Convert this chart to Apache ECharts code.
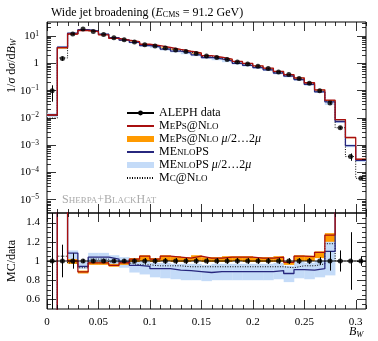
<!DOCTYPE html>
<html><head><meta charset="utf-8">
<script src="https://cdn.jsdelivr.net/npm/echarts@6/dist/echarts.min.js"></script>
<style>html,body{margin:0;padding:0;background:#fff}#c{width:378px;height:341px}</style>
</head><body><div id="c"></div>
<script>
// ---- data (bins of B_W) ----
const binEdges = [0,0.01,0.02,0.03,0.04,0.05,0.06,0.07,0.08,0.09,0.10,0.11,0.12,0.13,0.14,0.15,0.16,0.17,0.18,0.19,0.20,0.21,0.22,0.23,0.24,0.25,0.26,0.27,0.28,0.29,0.30,0.31];
const xTickLabels = [0, 0.05, 0.1, 0.15, 0.2, 0.25, 0.3];
const logTickLabels = [-5, -4, -3, -2, -1, 0, 1];
const ratioTickLabels = [0.6, 0.8, 1, 1.2, 1.4];

const dataVal = [0.095, 1.45, 11.5, 17.4, 14.3, 10.9, 8.3, 7.0, 5.9, 4.6, 4.2, 3.5, 3.0, 2.6, 2.2, 1.8, 1.57, 1.33, 1.09, 0.92, 0.76, 0.63, 0.47, 0.38, 0.27, 0.18, 0.095, 0.034, 0.0042, 0.00037, 0.000059];
const dataErr = [0.6, 0.17, 0.08, 0.02, 0.02, 0.02, 0.02, 0.02, 0.025, 0.03, 0.03, 0.03, 0.03, 0.03, 0.03, 0.03, 0.03, 0.03, 0.03, 0.03, 0.03, 0.03, 0.03, 0.03, 0.03, 0.03, 0.04, 0.1, 0.11, 0.3, 0.05];

// MC / data ratios
const mepsRatio = [0.13, 2.5, 1.0, 0.886, 0.98, 0.98, 0.955, 0.98, 1.02, 1.05, 1.02, 1.05, 1.04, 1.03, 1.05, 1.03, 1.03, 1.04, 1.04, 1.04, 1.03, 1.03, 1.04, 0.986, 1.05, 1.045, 1.09, 1.27, 2.0, 5.0, 5.0];
const mepsLo = [0.12, 2.3, 0.97, 0.87, 0.96, 0.96, 0.94, 0.96, 0.99, 1.0, 0.99, 1.0, 0.99, 0.99, 1.0, 0.99, 0.99, 0.99, 1.0, 0.99, 0.99, 0.99, 0.99, 0.96, 1.0, 1.0, 1.03, 1.2, 1.9, 4.7, 4.7];
const mepsHi = [0.14, 2.6, 1.02, 0.9, 0.99, 0.99, 0.97, 0.99, 1.03, 1.06, 1.03, 1.06, 1.05, 1.04, 1.06, 1.04, 1.04, 1.05, 1.05, 1.05, 1.04, 1.04, 1.05, 0.995, 1.06, 1.055, 1.1, 1.29, 2.1, 5.2, 5.2];
const menloRatio = [0.13, 2.6, 1.083, 0.944, 1.04, 1.04, 1.02, 0.99, 0.955, 0.945, 0.92, 0.92, 0.905, 0.9, 0.89, 0.88, 0.89, 0.89, 0.89, 0.89, 0.89, 0.89, 0.9, 0.87, 0.91, 0.905, 0.92, 1.1, 1.7, 2.5, 4.6];
const menloLo = [0.11, 2.2, 0.98, 0.92, 0.97, 0.97, 0.95, 0.93, 0.88, 0.86, 0.83, 0.82, 0.81, 0.8, 0.8, 0.79, 0.8, 0.8, 0.8, 0.8, 0.8, 0.8, 0.81, 0.78, 0.82, 0.81, 0.83, 0.85, 1.5, 2.2, 4.0];
const menloHi = [0.15, 2.9, 1.11, 0.99, 1.085, 1.085, 1.06, 1.04, 1.0, 0.99, 0.98, 0.98, 0.97, 0.97, 0.97, 0.96, 0.97, 0.97, 0.97, 0.97, 0.97, 0.97, 0.98, 0.95, 0.99, 0.98, 1.0, 1.25, 1.9, 2.8, 5.2];
const mcnloRatio = [0.1, 1.05, 0.98, 0.93, 1.02, 1.02, 0.99, 0.98, 0.96, 0.96, 0.95, 0.95, 0.95, 0.94, 0.94, 0.94, 0.94, 0.94, 0.94, 0.94, 0.94, 0.94, 0.94, 0.93, 0.95, 0.95, 0.97, 1.18, 1.0, 1.0, 1.0];

// ---- styling ----
const FONT = 'Liberation Serif';
const RED = '#a80f0f', BLUE = '#27277e', ORANGE = '#ff9a00', LBLUE = '#c4dbf8';

const centers = binEdges.slice(0, -1).map((e, i) => (e + binEdges[i + 1]) / 2);
function step(vals) {
  const d = vals.map((v, i) => [binEdges[i], v]);
  d.push([binEdges[vals.length], vals[vals.length - 1]]);
  return d;
}
const lg = Math.log10;
const topOf = r => r.map((v, i) => lg(v * dataVal[i]));

function lineS(name, data, gi, color, width, type, z) {
  return {name, type: 'line', xAxisIndex: gi, yAxisIndex: gi, data, step: 'end', symbol: 'none', showSymbol: false,
    color, lineStyle: {color, width, type: type || 'solid'}, z: z || 3, silent: true};
}
// band: one rectangle per bin between lo and hi
function bandS(name, lo, hi, gi, color) {
  return {name, type: 'custom', xAxisIndex: gi, yAxisIndex: gi, clip: true, silent: true, z: 1,
    itemStyle: {color},
    data: lo.map((l, i) => [binEdges[i], binEdges[i + 1], l, hi[i]]),
    encode: {x: [0, 1], y: [2, 3]},
    renderItem: (p, api) => {
      const a = api.coord([api.value(0), api.value(3)]);
      const b = api.coord([api.value(1), api.value(2)]);
      return {type: 'rect', shape: {x: a[0], y: a[1], width: b[0] - a[0] + 0.3, height: b[1] - a[1]},
        style: {fill: color}};
    }};
}
function errS(gi, rows) {
  return {type: 'custom', xAxisIndex: gi, yAxisIndex: gi, clip: true, silent: true, z: 5,
    data: rows, encode: {x: 0, y: [1, 2]},
    renderItem: (p, api) => {
      const a = api.coord([api.value(0), api.value(1)]);
      const b = api.coord([api.value(0), api.value(2)]);
      const x = Math.round(a[0]) + 0.5;
      return {type: 'line', shape: {x1: x, y1: a[1], x2: x, y2: b[1]}, style: {stroke: '#000', lineWidth: 1}};
    }};
}
// frame ticks (inward on all four sides)
const xMajorT = [0, 0.05, 0.1, 0.15, 0.2, 0.25, 0.3];
const xMinorT = binEdges.filter(v => Math.abs(v / 0.05 - Math.round(v / 0.05)) > 1e-6);
const logMinorT = [];
for (let n = -6; n <= 1; n++) for (let k = 2; k <= 9; k++) {
  const v = n + lg(k); if (v > -5.5 && v < 1.5) logMinorT.push(v);
}
const ratioMinorT = [0.55, 0.65, 0.7, 0.75, 0.85, 0.9, 0.95, 1.05, 1.1, 1.15, 1.25, 1.3, 1.35, 1.45];
function tickS(gi, yMaj, yMin, ref) {
  return {type: 'custom', xAxisIndex: gi, yAxisIndex: gi, silent: true, z: 6, clip: false,
    data: [ref], encode: {x: 0, y: 1},
    renderItem: (p, api) => {
      const cs = p.coordSys;
      const x0 = cs.x, x1 = cs.x + cs.width, y0 = cs.y, y1 = cs.y + cs.height;
      const ch = [];
      const add = (a, b, c, d) => ch.push({type: 'line', shape: {x1: a, y1: b, x2: c, y2: d}, style: {stroke: '#000', lineWidth: 0.8}});
      const rx = api.value(0), ry = api.value(1);
      const vx = (v, L) => { const px = Math.round(api.coord([v, ry])[0]) + 0.5; add(px, y0, px, y0 + L); add(px, y1, px, y1 - L); };
      const hy = (v, L) => { const py = Math.round(api.coord([rx, v])[1]) + 0.5; add(x0, py, x0 + L, py); add(x1, py, x1 - L, py); };
      xMajorT.forEach(v => vx(v, 9));
      xMinorT.forEach(v => vx(v, 4));
      yMaj.forEach(v => hy(v, 9));
      yMin.forEach(v => hy(v, 4));
      return {type: 'group', children: ch};
    }};
}

const scRich = {
  n: {fontFamily: FONT, fontSize: 12, lineHeight: 12, verticalAlign: 'top', color: '#000'},
  c: {fontFamily: FONT, fontSize: 9, lineHeight: 12, verticalAlign: 'top', padding: [2.5, 0, 0, 0], color: '#000'},
  i: {fontFamily: FONT, fontSize: 12, lineHeight: 12, verticalAlign: 'top', fontStyle: 'italic', color: '#000'}
};
const legendText = {
  'ALEPH data': '{n|ALEPH data}',
  'MePs@Nlo': '{n|M}{c|E}{n|P}{c|S}{n|@N}{c|LO}',
  'MePs@Nlo μ/2…2μ': '{n|M}{c|E}{n|P}{c|S}{n|@N}{c|LO}{n| }{i|μ}{n|/2…2}{i|μ}',
  'MEnloPS': '{n|ME}{c|NLO}{n|PS}',
  'MEnloPS μ/2…2μ': '{n|ME}{c|NLO}{n|PS }{i|μ}{n|/2…2}{i|μ}',
  'Mc@Nlo': '{n|M}{c|C}{n|@N}{c|LO}'
};

const series = [
  // top panel
  bandS('MEnloPS μ/2…2μ', topOf(menloLo), topOf(menloHi), 0, LBLUE),
  bandS('MePs@Nlo μ/2…2μ', topOf(mepsLo), topOf(mepsHi), 0, ORANGE),
  lineS('Mc@Nlo', step(topOf(mcnloRatio)), 0, '#000', 1, [1, 1.5], 2),
  lineS('MEnloPS', step(topOf(menloRatio)), 0, BLUE, 1.3, 'solid', 3),
  lineS('MePs@Nlo', step(topOf(mepsRatio)), 0, RED, 1.3, 'solid', 3),
  errS(0, dataVal.map((v, i) => [centers[i], lg(v * (1 - dataErr[i])), lg(v * (1 + dataErr[i]))])),
  {name: 'data_top', type: 'scatter', xAxisIndex: 0, yAxisIndex: 0, symbol: 'circle', symbolSize: 5,
    itemStyle: {color: '#000'}, data: dataVal.map((v, i) => [centers[i], lg(v)]), z: 6, silent: true},
  tickS(0, logTickLabels, logMinorT, [0.1, 0]),
  // ratio panel
  bandS('menlo band r', menloLo, menloHi, 1, LBLUE),
  bandS('meps band r', mepsLo, mepsHi, 1, ORANGE),
  lineS('mcnlo r', step(mcnloRatio), 1, '#000', 1, [1, 1.5], 2),
  lineS('menlo r', step(menloRatio), 1, BLUE, 1.3, 'solid', 3),
  lineS('meps r', step(mepsRatio), 1, RED, 1.3, 'solid', 3),
  Object.assign(lineS('ALEPH data', step(dataVal.map(() => 1)), 1, '#000', 1, 'solid', 4), {symbol: 'circle', symbolSize: 5}),
  errS(1, dataErr.map((e, i) => [centers[i], 1 - e, 1 + e])),
  {name: 'data_r', type: 'scatter', xAxisIndex: 1, yAxisIndex: 1, symbol: 'circle', symbolSize: 5,
    itemStyle: {color: '#000'}, data: centers.map(c => [c, 1]), z: 6, silent: true},
  tickS(1, ratioTickLabels, ratioMinorT, [0.1, 1])
];

const near = (v, arr) => arr.some(t => Math.abs(v - t) < 1e-6);
const axisLabelFont = {fontFamily: FONT, fontSize: 11, color: '#000'};
const noSym = {opacity: 0};

const option = {
  animation: false,
  backgroundColor: '#fff',
  title: {
    text: '{n|Wide jet broadening (}{i|E}{sub|CMS}{n| = 91.2 GeV)}',
    left: 46, top: 2,
    textStyle: {fontWeight: 'normal', rich: {
      n: {fontFamily: FONT, fontSize: 12, fontWeight: 'normal', lineHeight: 14, verticalAlign: 'top', color: '#000'},
      i: {fontFamily: FONT, fontSize: 12, fontWeight: 'normal', lineHeight: 14, verticalAlign: 'top', fontStyle: 'italic', color: '#000'},
      sub: {fontFamily: FONT, fontSize: 8, fontWeight: 'normal', lineHeight: 14, verticalAlign: 'top', padding: [4, 0, 0, 0], color: '#000'}
    }}
  },
  grid: [
    {left: 47, right: 12, top: 22, height: 191, show: true, borderColor: '#000', borderWidth: 1, backgroundColor: 'transparent'},
    {left: 47, right: 12, top: 213, height: 96, show: true, borderColor: '#000', borderWidth: 1, backgroundColor: 'transparent'}
  ],
  xAxis: [
    {gridIndex: 0, type: 'value', min: 0, max: 0.31, interval: 0.05, axisLine: {show: false}, axisTick: {show: false},
      axisLabel: {show: false}, splitLine: {show: false}},
    {gridIndex: 1, type: 'value', min: 0, max: 0.31, interval: 0.05, axisLine: {show: false}, axisTick: {show: false},
      splitLine: {show: false},
      axisLabel: Object.assign({margin: 8, showMaxLabel: false, formatter: v => near(v, xTickLabels) ? String(+v.toFixed(2)) : ''}, axisLabelFont)}
  ],
  yAxis: [
    {gridIndex: 0, type: 'value', min: -5.5, max: 1.5, interval: 0.5, axisLine: {show: false}, axisTick: {show: false},
      splitLine: {show: false},
      axisLabel: {margin: 8, showMinLabel: false, showMaxLabel: false,
        formatter: v => {
          if (!near(v, logTickLabels)) return '';
          const r = Math.round(v);
          if (r === 0) return '{b|1}';
          return '{b|10}{s|' + (r < 0 ? '−' + (-r) : r) + '}';
        },
        rich: {
          b: {fontFamily: FONT, fontSize: 11, lineHeight: 12, verticalAlign: 'bottom', padding: [2, 0, 0, 0], color: '#000'},
          s: {fontFamily: FONT, fontSize: 7.5, lineHeight: 9, verticalAlign: 'top', color: '#000'}
        }}},
    {gridIndex: 1, type: 'value', min: 0.5, max: 1.5, interval: 0.1, axisLine: {show: false}, axisTick: {show: false},
      splitLine: {show: false},
      axisLabel: Object.assign({margin: 7, showMinLabel: false, showMaxLabel: false,
        formatter: v => near(v, ratioTickLabels) ? String(+v.toFixed(1)) : ''}, axisLabelFont)}
  ],
  legend: {
    orient: 'vertical', left: 126, top: 107, itemWidth: 27, itemHeight: 6, itemGap: 1,
    selectedMode: false, padding: 0,
    data: [
      {name: 'ALEPH data'},
      {name: 'MePs@Nlo', itemStyle: noSym},
      {name: 'MePs@Nlo μ/2…2μ', icon: 'rect', itemStyle: {color: ORANGE, borderWidth: 0}},
      {name: 'MEnloPS', itemStyle: noSym},
      {name: 'MEnloPS μ/2…2μ', icon: 'rect', itemStyle: {color: LBLUE, borderWidth: 0}},
      {name: 'Mc@Nlo', itemStyle: noSym}
    ],
    formatter: name => legendText[name] || name,
    textStyle: {fontFamily: FONT, fontSize: 12, color: '#000', rich: scRich}
  },
  graphic: [
    {type: 'text', x: 12, y: 66, rotation: Math.PI / 2,
      style: {text: '{n|1/}{i|σ}{n| d}{i|σ}{n|/d}{i|B}{sub|W}', align: 'center', verticalAlign: 'middle',
        rich: {
          n: {fontFamily: FONT, fontSize: 12, lineHeight: 13, verticalAlign: 'top', fill: '#000'},
          i: {fontFamily: FONT, fontSize: 12, lineHeight: 13, verticalAlign: 'top', fontStyle: 'italic', fill: '#000'},
          sub: {fontFamily: FONT, fontSize: 8.5, lineHeight: 13, verticalAlign: 'top', fontStyle: 'italic', padding: [4, 0, 0, 0], fill: '#000'}
        }}},
    {type: 'text', x: 12, y: 261, rotation: Math.PI / 2,
      style: {text: 'MC/data', align: 'center', verticalAlign: 'middle', font: '12px "Liberation Serif"', fill: '#000'}},
    {type: 'text', x: 349, y: 326,
      style: {text: '{i|B}{sub|W}', align: 'left', verticalAlign: 'top',
        rich: {
          i: {fontFamily: FONT, fontSize: 12, lineHeight: 13, verticalAlign: 'top', fontStyle: 'italic', fill: '#000'},
          sub: {fontFamily: FONT, fontSize: 8.5, lineHeight: 13, verticalAlign: 'top', fontStyle: 'italic', padding: [4, 0, 0, 0], fill: '#000'}
        }}},
    {type: 'text', x: 62, y: 200,
      style: {text: '{n|S}{c|HERPA}{n|+B}{c|LACK}{n|H}{c|AT}', align: 'left', verticalAlign: 'middle',
        rich: {
          n: {fontFamily: FONT, fontSize: 12, lineHeight: 13, verticalAlign: 'top', fill: '#aaa'},
          c: {fontFamily: FONT, fontSize: 9, lineHeight: 13, verticalAlign: 'top', padding: [2.5, 0, 0, 0], fill: '#aaa'}
        }}}
  ],
  series
};

const chart = echarts.init(document.getElementById('c'), null, {renderer: 'canvas'});
chart.setOption(option);
</script>
</body></html>
